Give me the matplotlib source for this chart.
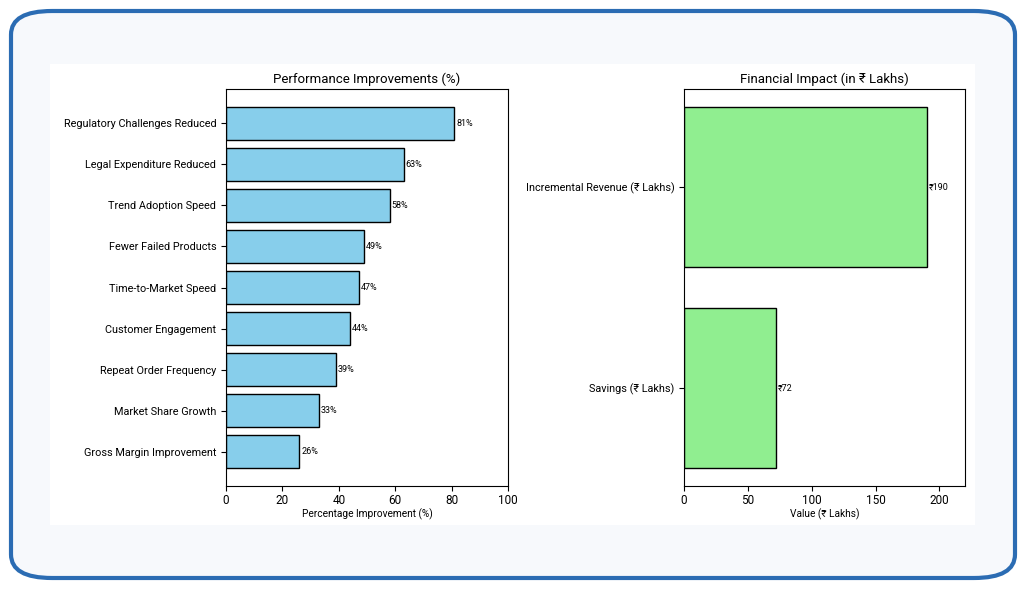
import matplotlib
matplotlib.use('Agg')
import matplotlib.pyplot as plt
from matplotlib.patches import FancyBboxPatch, Rectangle

plt.rcParams['font.family'] = ['Roboto', 'DejaVu Sans']

# Veriler
perf_labels = ['Regulatory Challenges Reduced', 'Legal Expenditure Reduced', 'Trend Adoption Speed',
               'Fewer Failed Products', 'Time-to-Market Speed', 'Customer Engagement',
               'Repeat Order Frequency', 'Market Share Growth', 'Gross Margin Improvement']
perf_values = [81, 63, 58, 49, 47, 44, 39, 33, 26]

fin_labels = ['Incremental Revenue (₹ Lakhs)', 'Savings (₹ Lakhs)']
fin_values = [190, 72]

fig = plt.figure(figsize=(10.26, 5.89), dpi=100, facecolor='white')

# arka plan ve çerçeve
fig.patches.append(FancyBboxPatch((11 / 1026, 11 / 589), 1004 / 1026, 567 / 589,
                                  boxstyle='round,pad=0,rounding_size=0.04',
                                  transform=fig.transFigure, facecolor='#f7f9fc',
                                  edgecolor='#2b6cb3', linewidth=3, zorder=-2))
fig.patches.append(Rectangle((50 / 1026, 64 / 589), 925 / 1026, 461 / 589,
                             transform=fig.transFigure, facecolor='white',
                             edgecolor='none', zorder=-1))

# Sol grafik
ax1 = fig.add_axes([226 / 1026, 103 / 589, 282 / 1026, 397 / 589])
ax1.barh(perf_labels[::-1], perf_values[::-1], color='skyblue', edgecolor='black')
for i, v in enumerate(perf_values[::-1]):
    ax1.text(v + 0.7, i, f'{v}%', va='center', fontsize=6.5)
ax1.set_xlim(0, 100)
ax1.set_title('Performance Improvements (%)', fontsize=9.5, pad=4)
ax1.set_xlabel('Percentage Improvement (%)', fontsize=7.3, labelpad=1)
ax1.tick_params(labelsize=7.8)
ax1.tick_params(axis='x', labelsize=8.5, pad=2)

# Sağ grafik
ax2 = fig.add_axes([684 / 1026, 103 / 589, 281 / 1026, 397 / 589])
ax2.barh(fin_labels[::-1], fin_values[::-1], color='lightgreen', edgecolor='black')
for i, v in enumerate(fin_values[::-1]):
    ax2.text(v + 1.5, i, f'₹{v}', va='center', fontsize=6.5)
ax2.set_xlim(0, 220)
ax2.set_title('Financial Impact (in ₹ Lakhs)', fontsize=9.5, pad=4)
ax2.set_xlabel('Value (₹ Lakhs)', fontsize=7.3, labelpad=1)
ax2.tick_params(labelsize=7.8)
ax2.tick_params(axis='x', labelsize=8.5, pad=2)

fig.savefig('out.png', dpi=100)
